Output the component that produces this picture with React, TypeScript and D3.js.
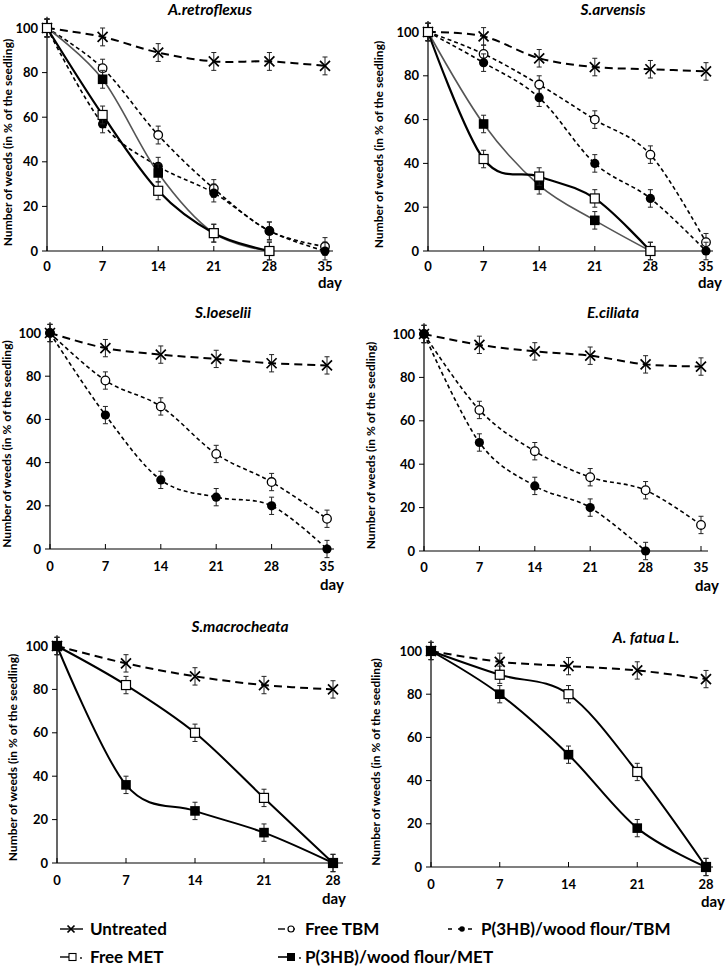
import React from 'react';
import * as d3 from 'd3';

// ---------- data ----------
const DAYS_35 = [0, 7, 14, 21, 28, 35];
const DAYS_28 = [0, 7, 14, 21, 28];
const Y_TICKS = [0, 20, 40, 60, 80, 100];
const ERR = 4;

// A.retroflexus
const RETRO_UNTREATED = [100, 96, 89, 85, 85, 83];
const RETRO_FREE_TBM = [100, 82, 52, 28, 9, 2];
const RETRO_P_TBM = [100, 57, 38, 26, 9, 0];
const RETRO_FREE_MET = [100, 61, 27, 8, 0];
const RETRO_P_MET = [100, 77, 35, 8, 0];

// S.arvensis
const ARV_UNTREATED = [100, 98, 88, 84, 83, 82];
const ARV_FREE_TBM = [100, 90, 76, 60, 44, 4];
const ARV_P_TBM = [100, 86, 70, 40, 24, 0];
const ARV_FREE_MET = [100, 42, 34, 24, 0];
const ARV_P_MET = [100, 58, 30, 14, 0];

// S.loeselii
const LOE_UNTREATED = [100, 93, 90, 88, 86, 85];
const LOE_FREE_TBM = [100, 78, 66, 44, 31, 14];
const LOE_P_TBM = [100, 62, 32, 24, 20, 0];

// E.ciliata
const CIL_UNTREATED = [100, 95, 92, 90, 86, 85];
const CIL_FREE_TBM = [100, 65, 46, 34, 28, 12];
const CIL_P_TBM = [100, 50, 30, 20, 0];

// S.macrocheata
const MAC_UNTREATED = [100, 92, 86, 82, 80];
const MAC_FREE_MET = [100, 82, 60, 30, 0];
const MAC_P_MET = [100, 36, 24, 14, 0];

// A. fatua L.
const FAT_UNTREATED = [100, 95, 93, 91, 87];
const FAT_FREE_MET = [100, 89, 80, 44, 0];
const FAT_P_MET = [100, 80, 52, 18, 0];

const LEGEND_LABELS = {
  untreated: 'Untreated',
  freeTBM: 'Free TBM',
  pTBM: 'P(3HB)/wood flour/TBM',
  freeMET: 'Free MET',
  pMET: 'P(3HB)/wood flour/MET',
};

// ---------- styles ----------
const FONT = 'Lato, "Open Sans", "DejaVu Sans", sans-serif';
type Kind = 'untreated' | 'freeTBM' | 'pTBM' | 'freeMET' | 'pMET';

const LINE_STYLE: Record<Kind, { stroke: string; width: number; dash?: string }> = {
  untreated: { stroke: '#000', width: 2, dash: '8,5' },
  freeTBM: { stroke: '#000', width: 1.6, dash: '4,3' },
  pTBM: { stroke: '#000', width: 1.6, dash: '4,3' },
  freeMET: { stroke: '#000', width: 2.2 },
  pMET: { stroke: '#000', width: 2 },
};

interface Series { kind: Kind; days: number[]; values: number[]; color?: string; width?: number }
interface Panel {
  title: string;
  maxDay: number;
  ticks: number[];
  series: Series[];
  layout: {
    left: number; right: number; axisEnd: number; yTop: number; yBot: number;
    titleX: number; titleY: number; yLabelX: number; tickY: number; dayX: number; dayY: number;
  };
}

const PANELS: Panel[] = [
  {
    title: 'A.retroflexus', maxDay: 35, ticks: DAYS_35,
    series: [
      { kind: 'untreated', days: DAYS_35, values: RETRO_UNTREATED },
      { kind: 'freeTBM', days: DAYS_35, values: RETRO_FREE_TBM },
      { kind: 'pTBM', days: DAYS_35, values: RETRO_P_TBM },
      { kind: 'pMET', days: DAYS_28, values: RETRO_P_MET, color: '#555', width: 1.6 },
      { kind: 'freeMET', days: DAYS_28, values: RETRO_FREE_MET },
    ],
    layout: { left: 47, right: 325, axisEnd: 333, yTop: 28, yBot: 251, titleX: 210, titleY: 15, yLabelX: 12, tickY: 271, dayX: 330, dayY: 288 },
  },
  {
    title: 'S.arvensis', maxDay: 35, ticks: DAYS_35,
    series: [
      { kind: 'untreated', days: DAYS_35, values: ARV_UNTREATED },
      { kind: 'freeTBM', days: DAYS_35, values: ARV_FREE_TBM },
      { kind: 'pTBM', days: DAYS_35, values: ARV_P_TBM },
      { kind: 'pMET', days: DAYS_28, values: ARV_P_MET, color: '#555', width: 1.6 },
      { kind: 'freeMET', days: DAYS_28, values: ARV_FREE_MET },
    ],
    layout: { left: 428, right: 706, axisEnd: 713, yTop: 32, yBot: 251, titleX: 613, titleY: 15, yLabelX: 383, tickY: 271, dayX: 710, dayY: 288 },
  },
  {
    title: 'S.loeselii', maxDay: 35, ticks: DAYS_35,
    series: [
      { kind: 'untreated', days: DAYS_35, values: LOE_UNTREATED },
      { kind: 'freeTBM', days: DAYS_35, values: LOE_FREE_TBM },
      { kind: 'pTBM', days: DAYS_35, values: LOE_P_TBM },
    ],
    layout: { left: 50, right: 327, axisEnd: 334, yTop: 333, yBot: 549, titleX: 223, titleY: 318, yLabelX: 11, tickY: 571, dayX: 332, dayY: 590 },
  },
  {
    title: 'E.ciliata', maxDay: 35, ticks: DAYS_35,
    series: [
      { kind: 'untreated', days: DAYS_35, values: CIL_UNTREATED },
      { kind: 'freeTBM', days: DAYS_35, values: CIL_FREE_TBM },
      { kind: 'pTBM', days: DAYS_28, values: CIL_P_TBM },
    ],
    layout: { left: 424, right: 701, axisEnd: 708, yTop: 334, yBot: 551, titleX: 613, titleY: 318, yLabelX: 375, tickY: 572, dayX: 707, dayY: 591 },
  },
  {
    title: 'S.macrocheata', maxDay: 28, ticks: DAYS_28,
    series: [
      { kind: 'untreated', days: DAYS_28, values: MAC_UNTREATED },
      { kind: 'freeMET', days: DAYS_28, values: MAC_FREE_MET, width: 2 },
      { kind: 'pMET', days: DAYS_28, values: MAC_P_MET },
    ],
    layout: { left: 57, right: 333, axisEnd: 343, yTop: 646, yBot: 863, titleX: 240, titleY: 632, yLabelX: 17, tickY: 885, dayX: 334, dayY: 904 },
  },
  {
    title: 'A. fatua L.', maxDay: 28, ticks: DAYS_28,
    series: [
      { kind: 'untreated', days: DAYS_28, values: FAT_UNTREATED },
      { kind: 'freeMET', days: DAYS_28, values: FAT_FREE_MET, width: 2 },
      { kind: 'pMET', days: DAYS_28, values: FAT_P_MET },
    ],
    layout: { left: 431, right: 706, axisEnd: 713, yTop: 651, yBot: 867, titleX: 646, titleY: 643, yLabelX: 380, tickY: 889, dayX: 713, dayY: 907 },
  },
];

// ---------- markers ----------
function Marker({ kind, x, y, s = 1 }: { kind: Kind; x: number; y: number; s?: number }) {
  switch (kind) {
    case 'untreated': {
      const h = 5 * s;
      return <path d={`M${x - h},${y - h}L${x + h},${y + h}M${x - h},${y + h}L${x + h},${y - h}`} stroke="#000" strokeWidth={1.7} fill="none" />;
    }
    case 'freeTBM':
      return <circle cx={x} cy={y} r={4.3 * s} fill="#fff" stroke="#000" strokeWidth={1.3} />;
    case 'pTBM':
      return <circle cx={x} cy={y} r={4.6 * s} fill="#000" />;
    case 'freeMET':
      return <rect x={x - 4.5 * s} y={y - 4.5 * s} width={9 * s} height={9 * s} fill="#fff" stroke="#000" strokeWidth={1.2} />;
    case 'pMET':
      return <rect x={x - 4.8 * s} y={y - 4.8 * s} width={9.6 * s} height={9.6 * s} fill="#000" />;
  }
}

function ChartPanel({ p }: { p: Panel }) {
  const L = p.layout;
  const x = d3.scaleLinear().domain([0, p.maxDay]).range([L.left, L.right]);
  const y = d3.scaleLinear().domain([0, 100]).range([L.yBot, L.yTop]);
  const line = d3.line<[number, number]>()
    .x(d => x(d[0]))
    .y(d => y(d[1]))
    .curve(d3.curveCardinal.tension(0));
  const midY = (L.yTop + L.yBot) / 2 + 3;
  return (
    <g>
      <text x={L.titleX} y={L.titleY} textAnchor="middle" fontFamily={FONT} fontSize={15.5} fontWeight="bold" fontStyle="italic">{p.title}</text>
      <text transform={`translate(${L.yLabelX},${midY}) rotate(-90)`} textAnchor="middle" fontFamily={FONT} fontSize={12} fontWeight="bold">Number of weeds (in % of the seedling)</text>
      {/* axes */}
      <line x1={L.left} x2={L.left} y1={y(0)} y2={y(105)} stroke="#000" strokeWidth={1.2} />
      <line x1={L.left} x2={L.axisEnd} y1={y(0)} y2={y(0)} stroke="#000" strokeWidth={1.2} />
      {Y_TICKS.map(t => (
        <g key={'yt' + t}>
          <line x1={L.left - 5} x2={L.left} y1={y(t)} y2={y(t)} stroke="#000" strokeWidth={1} />
          <text x={L.left - 9} y={y(t)} dy="0.35em" textAnchor="end" fontFamily={FONT} fontSize={13} fontWeight="bold">{t}</text>
        </g>
      ))}
      {p.ticks.map(t => (
        <g key={'xt' + t}>
          <line x1={x(t)} x2={x(t)} y1={y(0)} y2={y(0) - 5} stroke="#000" strokeWidth={1} />
          <text x={x(t)} y={L.tickY} textAnchor="middle" fontFamily={FONT} fontSize={13} fontWeight="bold">{t}</text>
        </g>
      ))}
      <text x={L.dayX} y={L.dayY} textAnchor="middle" fontFamily={FONT} fontSize={15} fontWeight="bold">day</text>
      {/* lines */}
      {p.series.map((s, i) => {
        const st = LINE_STYLE[s.kind];
        const pts = s.days.map((d, j) => [d, s.values[j]] as [number, number]);
        return <path key={'l' + i} d={line(pts) || ''} fill="none" stroke={s.color || st.stroke}
          strokeWidth={s.width || st.width} strokeDasharray={st.dash} />;
      })}
      {/* error bars + markers */}
      {p.series.map((s, i) => (
        <g key={'m' + i}>
          {s.days.map((d, j) => {
            const cx = x(d), v = s.values[j];
            const y1 = y(v - ERR), y2 = y(v + ERR);
            return (
              <g key={j}>
                <path d={`M${cx},${y1}V${y2}M${cx - 2.5},${y1}H${cx + 2.5}M${cx - 2.5},${y2}H${cx + 2.5}`} stroke="#222" strokeWidth={1} fill="none" />
                <Marker kind={s.kind} x={cx} y={y(v)} />
              </g>
            );
          })}
        </g>
      ))}
    </g>
  );
}

function LegendItem({ kind, x, y }: { kind: Kind; x: number; y: number }) {
  let sym: React.ReactNode = null;
  if (kind === 'untreated') {
    sym = <g><line x1={x} x2={x + 23} y1={y} y2={y} stroke="#000" strokeWidth={1.4} /><Marker kind="untreated" x={x + 11} y={y} s={0.7} /></g>;
  } else if (kind === 'freeTBM') {
    sym = <g><line x1={x} x2={x + 7} y1={y} y2={y} stroke="#000" strokeWidth={1.4} /><line x1={x + 10} x2={x + 17} y1={y} y2={y} stroke="#000" strokeWidth={1.4} /><circle cx={x + 13} cy={y} r={3} fill="#fff" stroke="#000" strokeWidth={1.2} /></g>;
  } else if (kind === 'pTBM') {
    sym = <g><line x1={x} x2={x + 28} y1={y} y2={y} stroke="#000" strokeWidth={1.4} strokeDasharray="4,6" /><circle cx={x + 14} cy={y} r={2.8} fill="#000" /></g>;
  } else if (kind === 'freeMET') {
    sym = <g><line x1={x} x2={x + 12} y1={y} y2={y} stroke="#000" strokeWidth={1.4} /><rect x={x + 9} y={y - 3.5} width={7} height={7} fill="#fff" stroke="#000" strokeWidth={1.1} /><circle cx={x + 21} cy={y + 1} r={0.9} fill="#000" /></g>;
  } else {
    sym = <g><line x1={x} x2={x + 12} y1={y} y2={y} stroke="#000" strokeWidth={1.6} /><rect x={x + 9} y={y - 4} width={8} height={8} fill="#000" /><circle cx={x + 22} cy={y + 1} r={0.9} fill="#000" /></g>;
  }
  const tx = kind === 'pTBM' ? x + 33 : kind === 'pMET' ? x + 27 : kind === 'freeTBM' ? x + 27 : x + 30;
  return (
    <g>
      {sym}
      <text x={tx} y={y} dy="0.35em" fontFamily={FONT} fontSize={17} fontWeight="bold">{LEGEND_LABELS[kind]}</text>
    </g>
  );
}

export default function App() {
  return (
    <svg width={726} height={967} style={{ position: 'absolute', left: 0, top: 0, background: '#fff' }}>
      <rect width={726} height={967} fill="#fff" />
      {PANELS.map((p, i) => <ChartPanel key={i} p={p} />)}
      <LegendItem kind="untreated" x={60} y={929} />
      <LegendItem kind="freeTBM" x={278} y={929} />
      <LegendItem kind="pTBM" x={448} y={929} />
      <LegendItem kind="freeMET" x={60} y={957} />
      <LegendItem kind="pMET" x={278} y={957} />
    </svg>
  );
}
